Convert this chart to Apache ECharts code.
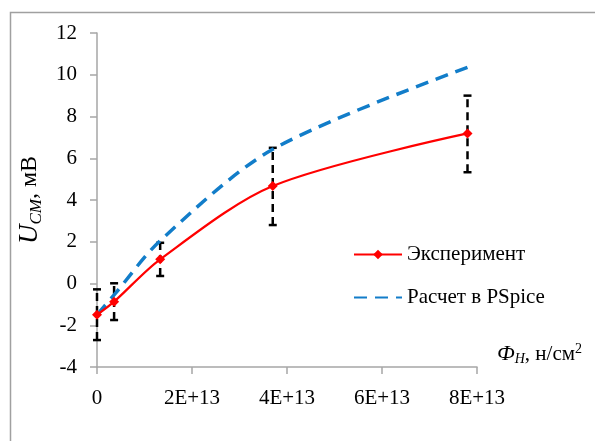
<!DOCTYPE html>
<html>
<head>
<meta charset="utf-8">
<script src="https://cdn.jsdelivr.net/npm/echarts@6/dist/echarts.min.js"></script>
<style>
  html, body { margin: 0; padding: 0; background: #fff; }
  #chart { width: 595px; height: 441px; }
</style>
</head>
<body>
<div id="chart"></div>
<script>
// флюенс нейтронов, н/см2
var fluence = [0, 0.36e13, 1.33e13, 3.70e13, 7.80e13];
// эксперимент, мВ
var expValues = [-1.5, -0.87, 1.16, 4.67, 7.19];
var errLow = [-2.71, -1.75, 0.36, 2.8, 5.33];
var errHigh = [-0.28, 0.01, 1.95, 6.5, 9.0];
// расчет в PSpice, мВ
var pspiceValues = [-1.5, -0.55, 2.05, 6.43, 10.35];

var xTicks = [0, 2e13, 4e13, 6e13, 8e13];
var yTicks = [-4, -2, 0, 2, 4, 6, 8, 10, 12];

var serif = 'Liberation Serif';
var axisGrey = '#a6a6a6';

function pairs(xs, ys) {
  return xs.map(function (x, i) { return [x, ys[i]]; });
}

var chart = echarts.init(document.getElementById('chart'));

var option = {
  backgroundColor: '#fff',
  animation: false,
  textStyle: { fontFamily: serif },
  graphic: [{
    type: 'rect',
    shape: { x: 10.5, y: 12.5, width: 620, height: 460 },
    style: { fill: 'none', stroke: '#a0a0a0', lineWidth: 1.5 },
    silent: true
  }],
  grid: { left: 97, right: 118, top: 33, bottom: 74 },
  legend: {
    left: 353,
    top: 244,
    padding: 0,
    orient: 'vertical',
    itemWidth: 48,
    itemHeight: 12,
    itemGap: 22,
    data: [
      { name: 'Эксперимент' },
      { name: 'Расчет в PSpice', itemStyle: { opacity: 0 } }
    ],
    textStyle: { fontFamily: serif, fontSize: 21, color: '#000' }
  },
  xAxis: {
    type: 'value',
    min: xTicks[0],
    max: xTicks[xTicks.length - 1],
    interval: 2e13,
    splitLine: { show: false },
    axisLine: { onZero: false, lineStyle: { color: axisGrey, width: 1.5 } },
    axisTick: { show: true, length: 7, lineStyle: { color: axisGrey, width: 1.5 } },
    axisLabel: {
      margin: 21,
      color: '#000',
      fontFamily: serif,
      fontSize: 21,
      formatter: function (v) { return v === 0 ? '0' : (v / 1e13) + 'E+13'; }
    },
    name: '{f|Ф}{s|H}{t|, н/см}{p|2}',
    nameLocation: 'end',
    nameGap: 20,
    nameTextStyle: {
      verticalAlign: 'bottom',
      padding: [0, 0, 1, 0],
      rich: {
        f: { fontFamily: serif, fontStyle: 'italic', fontSize: 22, color: '#000' },
        s: { fontFamily: serif, fontStyle: 'italic', fontSize: 14, color: '#000', padding: [10, 0, 0, 0] },
        t: { fontFamily: serif, fontSize: 21, color: '#000' },
        p: { fontFamily: serif, fontSize: 14, color: '#000', padding: [0, 0, 10, 0] }
      }
    }
  },
  yAxis: {
    type: 'value',
    min: yTicks[0],
    max: yTicks[yTicks.length - 1],
    interval: 2,
    splitLine: { show: false },
    axisLine: { show: true, onZero: false, lineStyle: { color: axisGrey, width: 1.5 } },
    axisTick: { show: true, length: 7, lineStyle: { color: axisGrey, width: 1.5 } },
    axisLabel: { margin: 20, color: '#000', fontFamily: serif, fontSize: 21 },
    name: '{u|U}{s|CM}{t|, мВ}',
    nameLocation: 'middle',
    nameRotate: 90,
    nameGap: 48,
    nameTextStyle: {
      rich: {
        u: { fontFamily: serif, fontStyle: 'italic', fontSize: 27, color: '#000' },
        s: { fontFamily: serif, fontStyle: 'italic', fontSize: 17, color: '#000', padding: [14, 0, 0, 0] },
        t: { fontFamily: serif, fontSize: 24, color: '#000' }
      }
    }
  },
  series: [
    {
      name: 'errors',
      type: 'custom',
      z: 1,
      data: fluence.map(function (x, i) { return [x, errLow[i], errHigh[i]]; }),
      renderItem: function (params, api) {
        var lo = api.coord([api.value(0), api.value(1)]);
        var hi = api.coord([api.value(0), api.value(2)]);
        var cap = 4;
        var st = { stroke: '#000', lineWidth: 2.5 };
        return {
          type: 'group',
          children: [
            { type: 'line', shape: { x1: lo[0], y1: lo[1], x2: hi[0], y2: hi[1] },
              style: { stroke: '#000', lineWidth: 2.5, lineDash: [8, 5] } },
            { type: 'line', shape: { x1: lo[0] - cap, y1: lo[1], x2: lo[0] + cap, y2: lo[1] }, style: st },
            { type: 'line', shape: { x1: hi[0] - cap, y1: hi[1], x2: hi[0] + cap, y2: hi[1] }, style: st }
          ]
        };
      }
    },
    {
      name: 'Расчет в PSpice',
      type: 'line',
      z: 2,
      data: pairs(fluence, pspiceValues),
      smooth: 0.3,
      symbol: 'none',
      itemStyle: { color: '#127dc9' },
      lineStyle: { color: '#127dc9', width: 3.5, type: [13, 8] }
    },
    {
      name: 'Эксперимент',
      type: 'line',
      z: 3,
      data: pairs(fluence, expValues),
      smooth: 0.3,
      symbol: 'diamond',
      symbolSize: 10,
      itemStyle: { color: '#ff0000' },
      lineStyle: { color: '#ff0000', width: 2.2 }
    }
  ]
};

chart.setOption(option);
</script>
</body>
</html>
